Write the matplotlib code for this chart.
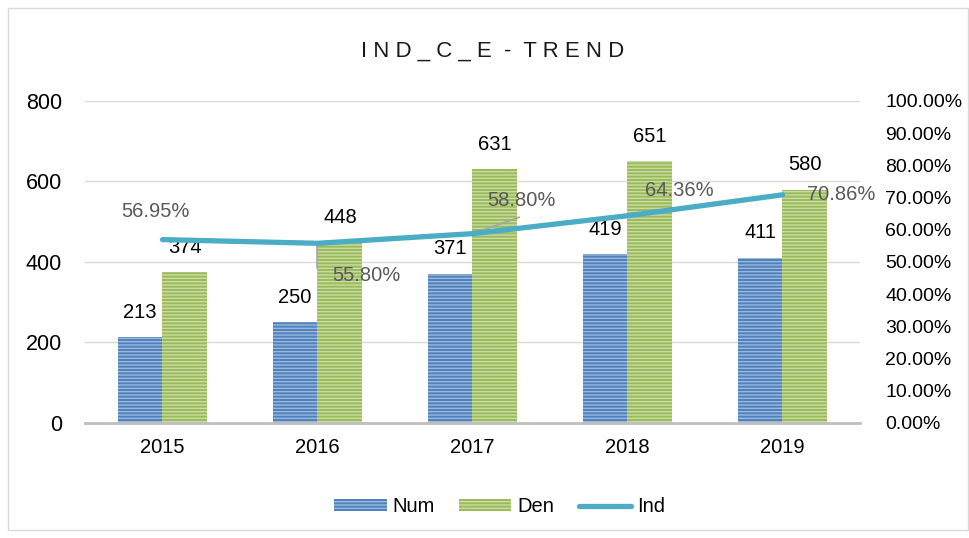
import matplotlib
matplotlib.use("Agg")
import matplotlib.pyplot as plt
from matplotlib.lines import Line2D
from matplotlib.patches import Patch, Rectangle
import numpy as np

# données
annees = ["2015", "2016", "2017", "2018", "2019"]
num = [213, 250, 371, 419, 411]
den = [374, 448, 631, 651, 580]
ind = [56.95, 55.80, 58.80, 64.36, 70.86]

plt.rcParams["font.family"] = ["Liberation Sans", "DejaVu Sans"]

BLEU = "#4f81bd"
VERT = "#9bbb59"
CYAN = "#4bacc6"
GRIS_TXT = "#595959"
TAILLE = 14.5

fig = plt.figure(figsize=(9.7, 5.38), dpi=100)
ax = fig.add_axes([0.0876, 0.2138, 0.799, 0.5985])
ax2 = ax.twinx()

x = np.arange(len(annees))
w = 0.29
ax.bar(x - w / 2, num, w, color=BLEU, edgecolor="#9db8dd", linewidth=0,
       hatch="-----", zorder=2)
ax.bar(x + w / 2, den, w, color=VERT, edgecolor="#c9dba6", linewidth=0,
       hatch="-----", zorder=2)

for xi, v in zip(x - w / 2, num):
    ax.annotate(str(v), (xi, v), xytext=(0, 11), textcoords="offset points",
                ha="center", va="bottom", fontsize=TAILLE)
for xi, v in zip(x + w / 2, den):
    ax.annotate(str(v), (xi, v), xytext=(0, 11), textcoords="offset points",
                ha="center", va="bottom", fontsize=TAILLE)

ax.set_ylim(0, 800)
ax.set_yticks([0, 200, 400, 600, 800])
ax.set_xlim(-0.5, 4.5)
ax.set_xticks(x)
ax.set_xticklabels(annees)
ax.tick_params(axis="both", length=0, labelsize=TAILLE, colors="black")
ax.tick_params(axis="x", pad=11)
ax.tick_params(axis="y", pad=16.5, labelsize=15.5)
ax.grid(axis="y", color="#d9d9d9", linewidth=1, zorder=0)
ax.set_axisbelow(True)
for s in ["top", "right", "left"]:
    ax.spines[s].set_visible(False)
ax.spines["bottom"].set_color("#bfbfbf")
ax.spines["bottom"].set_linewidth(2)
ax.spines["bottom"].set_zorder(3)

# indicateur en %
ax2.plot(x, ind, color=CYAN, linewidth=3.8, solid_capstyle="round", zorder=4)
ax2.set_ylim(0, 100)
ax2.set_yticks(np.arange(0, 101, 10))
ax2.set_yticklabels([f"{t:.2f}%" for t in np.arange(0, 101, 10)])
ax2.tick_params(axis="y", length=0, labelsize=14, pad=18)
for s in ["top", "right", "left", "bottom"]:
    ax2.spines[s].set_visible(False)

# étiquettes du pourcentage (positions comme Excel)
decal = [(-5, 20), (35, -23), (35, 24), (37, 18), (42, 0)]
for xi, v, (dx, dy) in zip(x, ind, decal):
    ax2.annotate(f"{v:.2f}%", (xi, v), xytext=(dx, dy), textcoords="offset points",
                 ha="center", va="center", fontsize=TAILLE, color=GRIS_TXT, zorder=5)
# traits de rappel
ax2.annotate("", (1, ind[1]), xytext=(1.0, ind[1] - 8.5),
             arrowprops=dict(arrowstyle="-", color="#a6a6a6", lw=1.2,
                             connectionstyle="angle,angleA=0,angleB=90,rad=0"))
ax2.annotate("", (2, ind[2]), xytext=(2.32, ind[2] + 5.4),
             arrowprops=dict(arrowstyle="-", color="#a6a6a6", lw=1.2))

fig.text(0.508, 0.905, "I N D _ C _ E  -  T R E N D", ha="center", va="center",
         fontsize=16, color="#1a1a1a")

poignees = [Patch(facecolor=BLEU, edgecolor="#9db8dd", hatch="-----", linewidth=0),
            Patch(facecolor=VERT, edgecolor="#c9dba6", hatch="-----", linewidth=0),
            Line2D([0], [0], color=CYAN, linewidth=3.8, solid_capstyle="round")]
fig.legend(poignees, ["Num", "Den", "Ind"], loc="center", bbox_to_anchor=(0.515, 0.058),
           ncol=3, frameon=False, fontsize=TAILLE, handlelength=2.6, handleheight=0.55,
           columnspacing=1.2, handletextpad=0.3)

fig.patches.append(Rectangle((8 / 970, 8 / 538), 960 / 970, 522 / 538,
                             transform=fig.transFigure, fill=False,
                             edgecolor="#d9d9d9", linewidth=1))

fig.savefig("out.png", dpi=100)
plt.close(fig)
